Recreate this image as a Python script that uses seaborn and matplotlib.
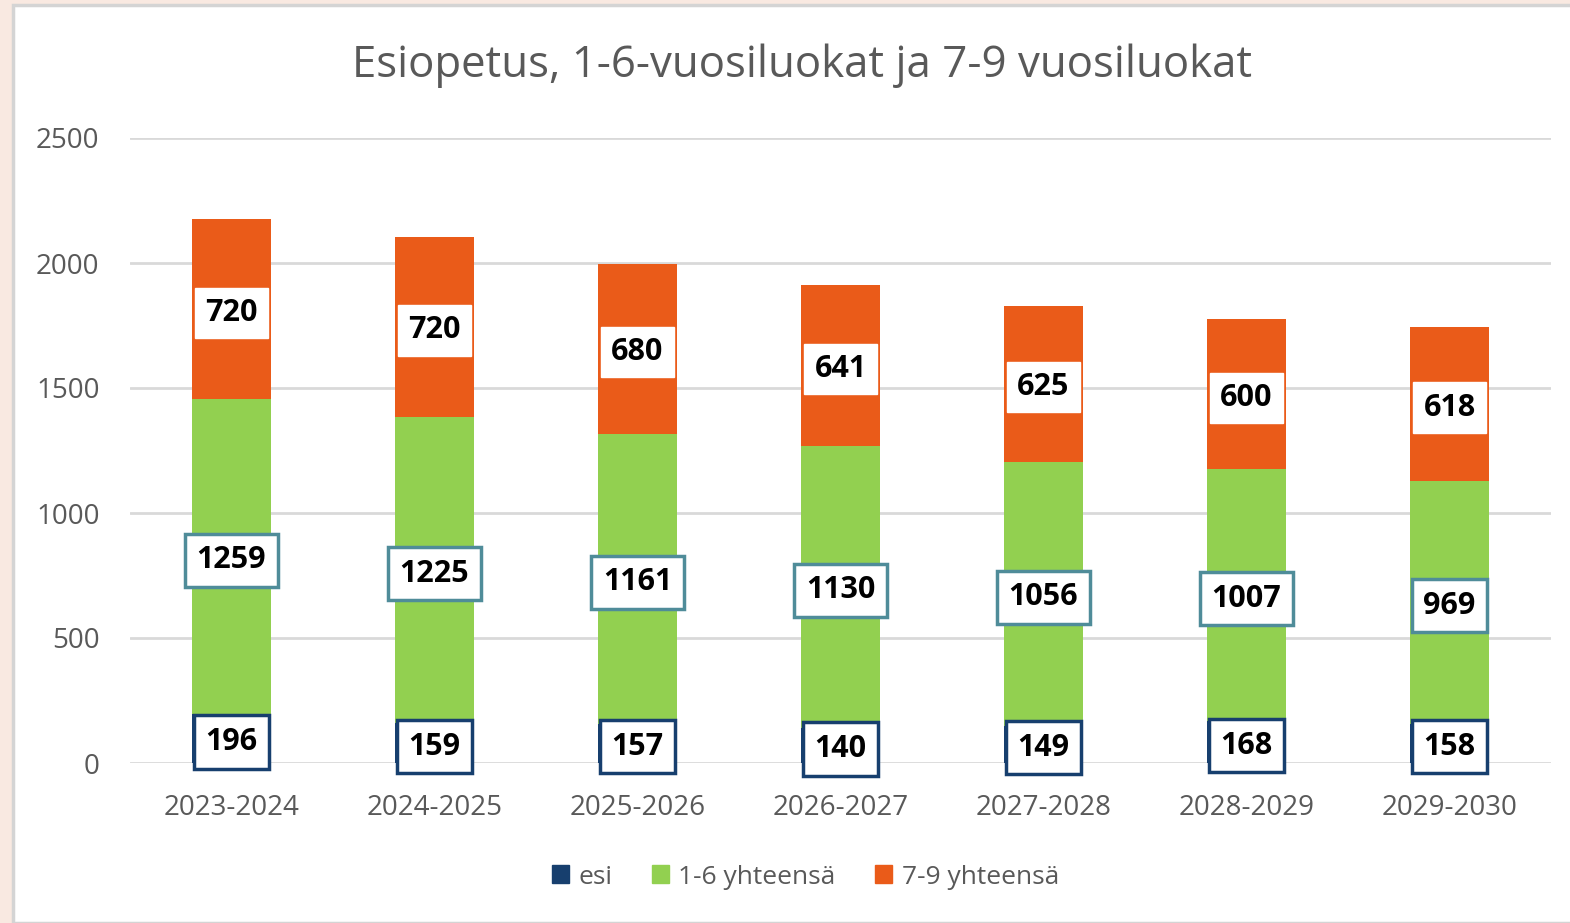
import numpy as np
import pandas as pd
import seaborn as sns
import matplotlib.pyplot as plt
from matplotlib.patches import Patch, Rectangle

# data
years = ['2023-2024', '2024-2025', '2025-2026', '2026-2027', '2027-2028', '2028-2029', '2029-2030']
esi = [196, 159, 157, 140, 149, 168, 158]
luokat_1_6 = [1259, 1225, 1161, 1130, 1056, 1007, 969]
luokat_7_9 = [720, 720, 680, 641, 625, 600, 618]

blue = '#173F6E'
green = '#92D050'
orange = '#EA5B19'
grey = '#595959'

df = pd.DataFrame({'vuosi': years, 'esi': esi, 'l16': luokat_1_6, 'l79': luokat_7_9})
df['cum_16'] = df['esi'] + df['l16']
df['total'] = df['cum_16'] + df['l79']

sns.set_theme(style='white')
plt.rcParams['font.family'] = ['Open Sans', 'DejaVu Sans']

fig = plt.figure(figsize=(15.7, 9.23), dpi=100)
fig.patch.set_facecolor('#F9E9E1')
# white chart area with a thin grey frame
fig.patches.append(Rectangle((13 / 1570, 0), 1, 1 - 5 / 923, transform=fig.transFigure,
                             facecolor='white', edgecolor='#D4D4D4', linewidth=2.5, zorder=-5))
ax = fig.add_axes([130 / 1570, 1 - 763 / 923, 1421 / 1570, 625 / 923])
ax.set_facecolor('none')

# stacked bars drawn as cumulative layers, tallest first
w = 0.394
sns.barplot(data=df, x='vuosi', y='total', color=orange, width=w, saturation=1, ax=ax, zorder=2,
            linewidth=0)
sns.barplot(data=df, x='vuosi', y='cum_16', color=green, width=w, saturation=1, ax=ax, zorder=3,
            linewidth=0)
sns.barplot(data=df, x='vuosi', y='esi', color=blue, width=w, saturation=1, ax=ax, zorder=4,
            linewidth=0)

ax.set_xlim(-0.5, len(years) - 0.5)
ax.set_ylim(0, 2500)
ax.set_yticks(range(0, 2501, 500))
ax.yaxis.grid(True, color='#D9D9D9', linewidth=2)
ax.set_axisbelow(True)
for s in ax.spines.values():
    s.set_visible(False)
ax.tick_params(axis='both', length=0, labelsize=20, labelcolor=grey)
ax.tick_params(axis='x', pad=22)
ax.tick_params(axis='y', pad=22)
ax.set_xlabel('')
ax.set_ylabel('')

# data labels in boxes
lab = dict(ha='center', va='center_baseline', fontsize=22, fontweight='bold', color='black', zorder=6)
for i, row in df.iterrows():
    ax.text(i, row['esi'] / 2, f"{row['esi']}", **lab,
            bbox=dict(boxstyle='square,pad=0.38', facecolor='white', edgecolor=blue, linewidth=2.5))
    ax.text(i, row['esi'] + row['l16'] / 2, f"{row['l16']}", **lab,
            bbox=dict(boxstyle='square,pad=0.38', facecolor='white', edgecolor='#4F8C99', linewidth=2.5))
    ax.text(i, row['cum_16'] + row['l79'] / 2, f"{row['l79']}", **lab,
            bbox=dict(boxstyle='square,pad=0.33', facecolor='white', edgecolor='white', linewidth=1))

fig.text(0.511, 1 - 66 / 923, 'Esiopetus, 1-6-vuosiluokat ja 7-9 vuosiluokat', ha='center', va='center',
         fontsize=31.5, color=grey)

handles = [Patch(color=blue, label='esi'), Patch(color=green, label='1-6 yhteensä'),
           Patch(color=orange, label='7-9 yhteensä')]
fig.legend(handles=handles, loc='center', bbox_to_anchor=(0.513, 1 - 877 / 923), ncol=3, frameon=False,
           fontsize=19, labelcolor=grey, handlelength=0.65, handleheight=0.65, handletextpad=0.35,
           columnspacing=1.5)

plt.savefig('out.png', dpi=100, facecolor=fig.get_facecolor())
